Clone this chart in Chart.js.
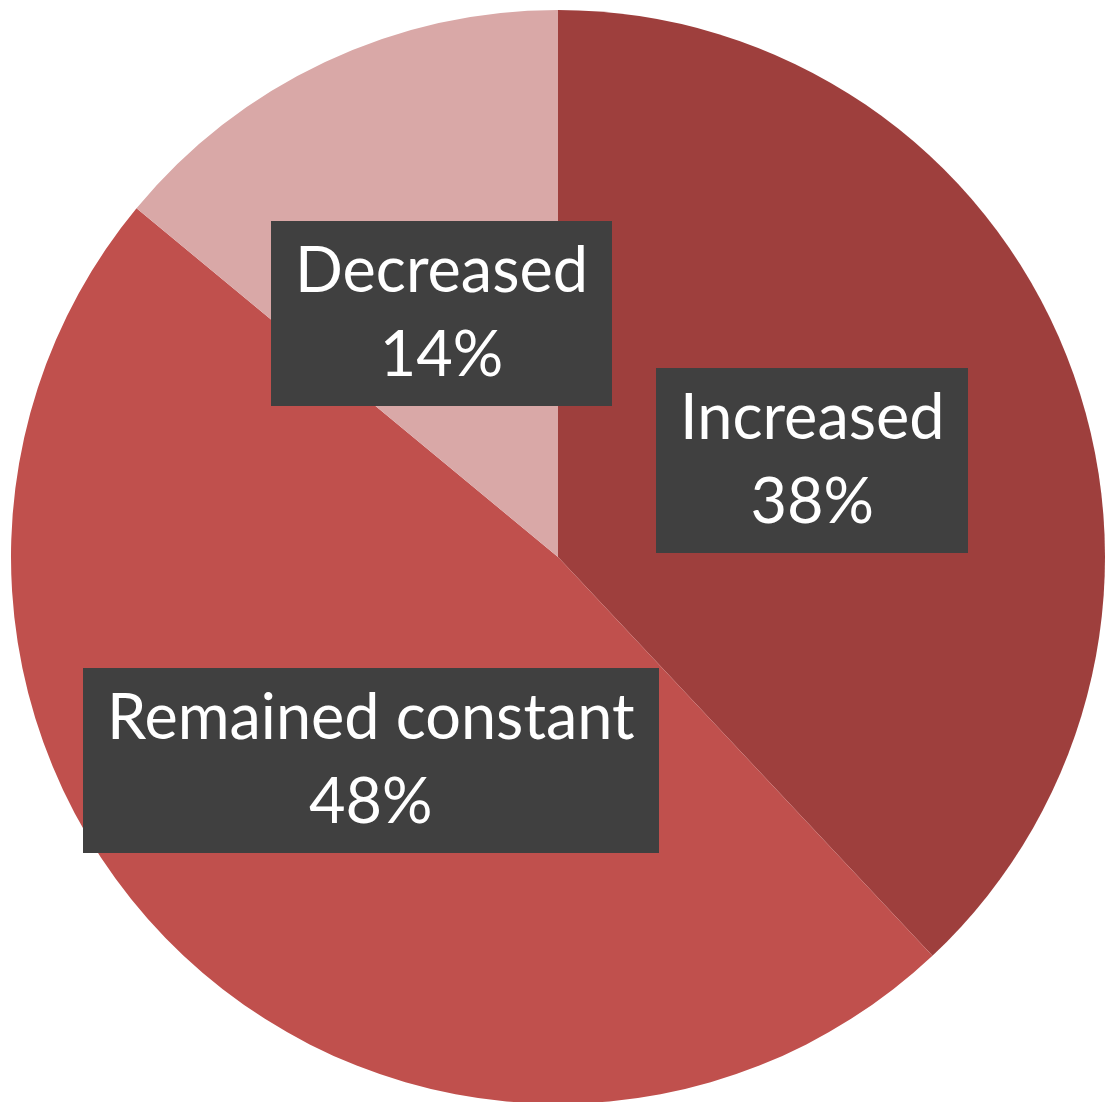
<!DOCTYPE html>
<html>
<head>
<meta charset="utf-8">
<script src="https://cdn.jsdelivr.net/npm/chart.js@4.4.1/dist/chart.umd.min.js"></script>
<style>
    html, body { margin: 0; padding: 0; background: #ffffff; overflow: hidden; }
    #wrap { width: 1106px; height: 1106px; position: relative; }
</style>
</head>
<body>
<div id="wrap"><canvas id="pie"></canvas></div>
<script>
// Values
const categories = ['Increased', 'Remained constant', 'Decreased'];
const shares = [38, 48, 14];
const sliceColors = ['#9e3f3d', '#c0504d', '#d9a8a7'];

/**
 * Dark call-out boxes sitting at the middle of each slice, with the
 * category name on the first line and the share on the second.
 */
const boxLabels = {
    id: 'boxLabels',
    afterDatasetsDraw(chart) {
        const ctx = chart.ctx;
        const meta = chart.getDatasetMeta(0);
        const fontSize = 63;
        const lineGap = 84;
        const padX = 24;
        const boxH = 185;

        ctx.save();
        ctx.font = `${fontSize}px Lato, "DejaVu Sans", sans-serif`;
        ctx.textAlign = 'center';
        ctx.textBaseline = 'middle';

        meta.data.forEach((arc, i) => {
            const pos = arc.tooltipPosition();
            const cx = pos.x;
            const cy = pos.y + 4;
            const lines = [categories[i], `${shares[i]}%`];
            const textW = Math.max(...lines.map((t) => ctx.measureText(t).width));
            const boxW = textW + padX * 2;

            ctx.fillStyle = '#404040';
            ctx.fillRect(Math.round(cx - boxW / 2), Math.round(cy - boxH / 2), Math.round(boxW), boxH);

            ctx.fillStyle = '#ffffff';
            ctx.fillText(lines[0], cx, cy - lineGap / 2);
            ctx.fillText(lines[1], cx, cy + lineGap / 2);
        });
        ctx.restore();
    },
};

new Chart(document.getElementById('pie'), {
    type: 'pie',
    data: {
        labels: categories,
        datasets: [
            {
                data: shares,
                backgroundColor: sliceColors,
                borderWidth: 0,
            },
        ],
    },
    options: {
        responsive: true,
        maintainAspectRatio: false,
        animation: false,
        layout: { padding: { top: 10, left: 10, right: 0, bottom: 2 } },
        plugins: {
            legend: { display: false },
            tooltip: { enabled: false },
        },
    },
    plugins: [boxLabels],
});
</script>
</body>
</html>
